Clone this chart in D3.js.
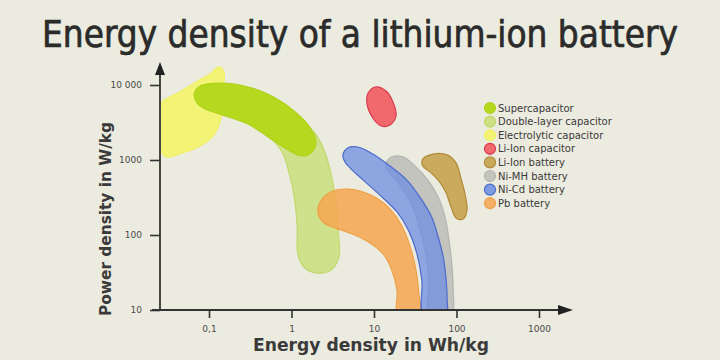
<!DOCTYPE html>
<html>
<head>
<meta charset="utf-8">
<script src="https://cdn.jsdelivr.net/npm/d3@7"></script>
<style>
  body { margin: 0; background: #ecebdf; }
  svg { display: block; }
</style>
</head>
<body>
<div id="chart"></div>
<script>
// Ragone plot, values: [energy Wh/kg, power W/kg] outlines
var categories = ["Supercapacitor", "Double-layer capacitor", "Electrolytic capacitor",
    "Li-Ion capacitor", "Li-Ion battery", "Ni-MH battery", "Ni-Cd battery", "Pb battery"];

var energyTicks = [0.1, 1, 10, 100, 1000];
var energyTickLabels = ["0,1", "1", "10", "100", "1000"];
var powerTicks = [10, 100, 1000, 10000];
var powerTickLabels = ["10", "100", "1000", "10 000"];

var electrolytic = [[0.027, 5900], [0.042, 7800], [0.07, 11000], [0.103, 14000], [0.132, 17400],
    [0.152, 14900], [0.144, 7400], [0.14, 3600], [0.112, 2100], [0.078, 1540], [0.048, 1240],
    [0.030, 1100], [0.026, 1360], [0.026, 3400]];
var supercapacitor = [[0.066, 7600], [0.078, 9700], [0.144, 10600], [0.30, 9400], [0.58, 7100],
    [1.10, 4400], [1.68, 2700], [1.98, 1740], [1.77, 1280], [1.34, 1130], [0.91, 1360],
    [0.52, 2030], [0.30, 3000], [0.144, 4000], [0.09, 4800], [0.072, 5750]];
var doubleLayer = [[0.24, 4640], [0.48, 4940], [1.01, 3630], [1.87, 2360], [2.48, 1360],
    [2.93, 740], [3.37, 340], [3.66, 117], [3.77, 52], [3.10, 35], [2.09, 31], [1.46, 36],
    [1.20, 54], [1.17, 136], [1.07, 340], [0.93, 690], [0.77, 1280], [0.52, 2150], [0.30, 3630]];
var liIonCapacitor = [[10.3, 9400], [14.0, 8300], [17.0, 5900], [18.5, 3860], [15.6, 2930],
    [12.2, 2840], [9.5, 3740], [8.2, 5750], [8.5, 7800]];
var liIonBattery = [[39, 1030], [52, 1200], [77, 1170], [99, 910], [113, 575], [127, 350],
    [134, 215], [120, 163], [99, 169], [86, 236], [75, 363], [61, 525], [48, 690], [39, 830]];
var niMH = [[14.0, 910], [16.5, 1100], [22.5, 1100], [31.4, 830], [45, 540], [60, 320],
    [73, 169], [81, 86], [88, 40], [91, 18.5], [88, 8.6], [63, 8.6], [46, 8.6], [46, 25],
    [41.5, 63], [34, 149], [26, 311], [18.5, 540], [14.4, 736]];
var niCd = [[4.2, 1170], [4.8, 1450], [6.4, 1490], [9.7, 1200], [15.6, 830], [25, 540],
    [36, 320], [50, 174], [60, 94], [69, 51], [75, 25], [77, 13.6], [75, 8.3], [40, 8.3],
    [38, 25], [33, 57], [26, 117], [19, 203], [11.8, 340], [7.4, 540], [5.4, 740], [4.45, 940]];
var pbBattery = [[2.09, 203], [2.34, 300], [3.18, 386], [4.84, 410], [7.4, 374], [11.2, 302],
    [16.1, 215], [21.8, 132], [27.3, 71], [32.3, 34], [35.1, 15.8], [36.1, 8.3], [19.5, 8.3],
    [19.0, 18.5], [16.1, 36], [12.9, 56], [8.2, 83], [5.1, 106], [3.37, 124], [2.41, 149]];

var shapes = {
    "Supercapacitor": supercapacitor,
    "Double-layer capacitor": doubleLayer,
    "Electrolytic capacitor": electrolytic,
    "Li-Ion capacitor": liIonCapacitor,
    "Li-Ion battery": liIonBattery,
    "Ni-MH battery": niMH,
    "Ni-Cd battery": niCd,
    "Pb battery": pbBattery
};

// fill, stroke, opacity
var look = {
    "Supercapacitor": ["#b6d81e", "#b0d31c", 1],
    "Double-layer capacitor": ["#c8de74", "#c2d96c", 0.8],
    "Electrolytic capacitor": ["#f4f46a", "#f0f064", 0.9],
    "Li-Ion capacitor": ["#f25a60", "#d83a50", 0.9],
    "Li-Ion battery": ["#c4a048", "#b08a38", 0.85],
    "Ni-MH battery": ["#bdbdba", "#b4b4b1", 0.85],
    "Ni-Cd battery": ["#6d8ee2", "#4d6bcc", 0.75],
    "Pb battery": ["#f6a650", "#eea048", 0.85]
};

var drawOrder = ["Electrolytic capacitor", "Double-layer capacitor", "Supercapacitor",
    "Ni-MH battery", "Pb battery", "Ni-Cd battery", "Li-Ion battery", "Li-Ion capacitor"];

var width = 720,
    height = 360;

var svg = d3.select("#chart")
    .append("svg")
    .attr("width", width)
    .attr("height", height);

svg.append("rect")
    .attr("width", width)
    .attr("height", height)
    .attr("fill", "#ecebdf");

var x = d3.scaleLog().domain([0.1, 1000]).range([209, 539]);
var y = d3.scaleLog().domain([10, 10000]).range([310, 85]);

var x0 = 160, y0 = 310;

svg.append("defs").append("clipPath")
    .attr("id", "plot")
    .append("rect")
    .attr("x", x0 + 1)
    .attr("y", 50)
    .attr("width", 440)
    .attr("height", y0 - 50);

var line = d3.line()
    .x(function (d) { return x(d[0]); })
    .y(function (d) { return y(d[1]); })
    .curve(d3.curveCatmullRomClosed.alpha(0.5));

svg.append("g")
    .attr("clip-path", "url(#plot)")
    .selectAll("path")
    .data(drawOrder)
    .enter().append("path")
    .attr("d", function (k) { return line(shapes[k]); })
    .attr("fill", function (k) { return look[k][0]; })
    .attr("fill-opacity", function (k) { return look[k][2]; })
    .attr("stroke", function (k) { return look[k][1]; })
    .attr("stroke-width", 1.2);

// title, squeezed to the width it has in the picture
var titleG = svg.append("g");
var title = titleG.append("text")
    .attr("text-anchor", "middle")
    .style("font-family", "'DejaVu Sans Condensed', 'DejaVu Sans', sans-serif")
    .style("font-stretch", "condensed")
    .style("font-size", "38px")
    .attr("fill", "#2b2b2b")
    .attr("stroke", "#2b2b2b")
    .attr("stroke-width", 0.7)
    .text("Energy density of a lithium-ion battery");
var tw = title.node().getComputedTextLength();
var sx = Math.min(1, 636 / tw);
titleG.attr("transform", "translate(360,47) scale(" + sx + ",1)");

// axes
var xAxis = svg.append("g")
    .attr("transform", "translate(0," + y0 + ")")
    .call(d3.axisBottom(x).tickValues(energyTicks)
        .tickFormat(function (d, i) { return energyTickLabels[i]; })
        .tickSize(8).tickPadding(8));

var yAxis = svg.append("g")
    .attr("transform", "translate(" + x0 + ",0)")
    .call(d3.axisLeft(y).tickValues(powerTicks)
        .tickFormat(function (d, i) { return powerTickLabels[i]; })
        .tickSize(10).tickPadding(8));

[xAxis, yAxis].forEach(function (g) {
    g.select(".domain").remove();
    g.selectAll("line").attr("stroke", "#333").attr("stroke-width", 1.6);
    g.selectAll("text")
        .style("font-family", "'DejaVu Sans', sans-serif")
        .style("font-size", "9px")
        .attr("fill", "#4a4a4a");
});

svg.append("line")
    .attr("x1", 152).attr("x2", 562)
    .attr("y1", y0).attr("y2", y0)
    .attr("stroke", "#333").attr("stroke-width", 1.8);
svg.append("line")
    .attr("x1", x0).attr("x2", x0)
    .attr("y1", 72).attr("y2", y0 + 1)
    .attr("stroke", "#333").attr("stroke-width", 1.8);

svg.append("path")
    .attr("d", "M573," + y0 + "L558," + (y0 - 5) + "L558," + (y0 + 5) + "Z")
    .attr("fill", "#222");
svg.append("path")
    .attr("d", "M" + x0 + ",62L" + (x0 - 5) + ",75L" + (x0 + 5) + ",75Z")
    .attr("fill", "#222");

svg.append("text")
    .attr("x", 371)
    .attr("y", 351)
    .attr("text-anchor", "middle")
    .attr("textLength", 236)
    .attr("lengthAdjust", "spacingAndGlyphs")
    .style("font-family", "'DejaVu Sans', sans-serif")
    .style("font-size", "17px")
    .style("font-weight", "bold")
    .attr("fill", "#3a3a3a")
    .text("Energy density in Wh/kg");

svg.append("text")
    .attr("transform", "translate(111,219) rotate(-90)")
    .attr("text-anchor", "middle")
    .attr("textLength", 194)
    .attr("lengthAdjust", "spacingAndGlyphs")
    .style("font-family", "'DejaVu Sans', sans-serif")
    .style("font-size", "16px")
    .style("font-weight", "bold")
    .attr("fill", "#3a3a3a")
    .text("Power density in W/kg");

// legend
var legend = svg.append("g")
    .selectAll("g")
    .data(categories)
    .enter().append("g")
    .attr("transform", function (d, i) { return "translate(490," + (108 + i * 13.6) + ")"; });

legend.append("circle")
    .attr("r", 5.5)
    .attr("fill", function (k) { return look[k][0]; })
    .attr("fill-opacity", function (k) { return Math.max(0.85, look[k][2]); })
    .attr("stroke", function (k) { return look[k][1]; })
    .attr("stroke-width", 1.2);

legend.append("text")
    .attr("x", 8)
    .attr("dy", "0.35em")
    .style("font-family", "'DejaVu Sans', sans-serif")
    .style("font-size", "10px")
    .attr("fill", "#3a3a3a")
    .text(function (d) { return d; });
</script>
</body>
</html>
